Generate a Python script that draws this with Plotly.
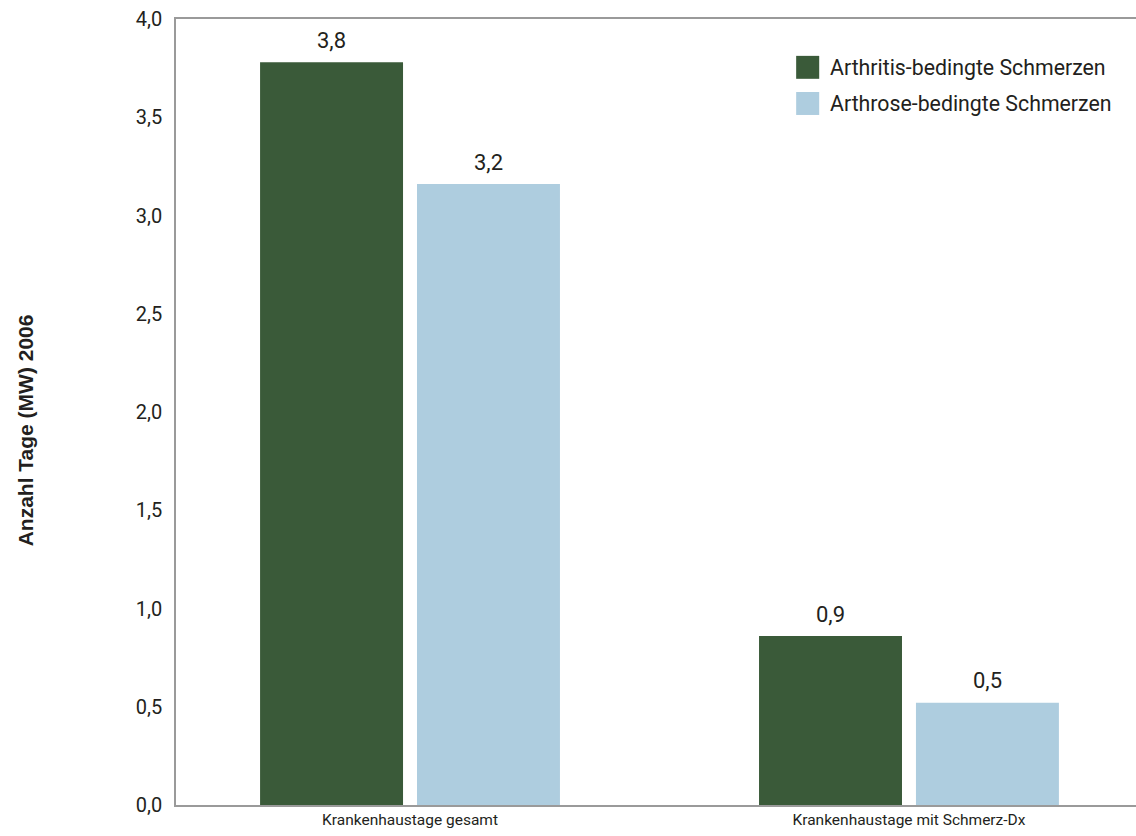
import plotly.graph_objects as go

# Mean number of hospital days, 2006
categories = ["Krankenhaustage gesamt", "Krankenhaustage mit Schmerz-Dx"]
series_names = ["Arthritis-bedingte Schmerzen", "Arthrose-bedingte Schmerzen"]
arthritis_days = [3.78, 0.86]
arthrose_days = [3.16, 0.52]
y_ticks = [0, 0.5, 1, 1.5, 2, 2.5, 3, 3.5, 4]

colors = ["#3a5a39", "#aecddf"]
font_main = "Roboto, 'Open Sans', sans-serif"
text_color = "#231f20"

fig = go.Figure()
for name, vals, col in zip(series_names, [arthritis_days, arthrose_days], colors):
    fig.add_trace(go.Bar(
        x=categories, y=vals, name=name,
        marker=dict(color=col, line=dict(width=0)),
        showlegend=False,
    ))

# Value labels above each bar (offset to the bar's slot within the group)
slot_shift = [-78.5, 78.5]
for vals, dx in zip([arthritis_days, arthrose_days], slot_shift):
    for cat, v in zip(categories, vals):
        fig.add_annotation(x=cat, y=v, text=f"{v:.1f}".replace(".", ","),
                           xref="x", yref="y", showarrow=False,
                           xshift=dx, yshift=22, yanchor="middle",
                           font=dict(family=font_main, size=22, color=text_color))

# Legend drawn as square swatches with labels
legend_y = [0.9385, 0.8925]
for name, col, ly in zip(series_names, colors, legend_y):
    fig.add_shape(type="rect", xref="paper", yref="paper",
                  x0=0.646, x1=0.670, y0=ly - 0.0146, y1=ly + 0.0146,
                  fillcolor=col, line=dict(width=0))
    fig.add_annotation(text=name, xref="paper", yref="paper",
                       x=0.679, y=ly, xanchor="left", yanchor="middle",
                       showarrow=False,
                       font=dict(family=font_main, size=21.3, color=text_color))

fig.add_annotation(text="<b>Anzahl Tage (MW) 2006</b>", xref="paper", yref="paper",
                   x=-0.157, y=0.477, textangle=-90, showarrow=False,
                   xanchor="center", yanchor="middle",
                   font=dict(family="'Liberation Sans', Arial, sans-serif", size=21,
                             color=text_color))

fig.update_layout(
    width=1136, height=836,
    margin=dict(l=176, r=0, t=19, b=31),
    paper_bgcolor="white", plot_bgcolor="white",
    barmode="group", bargap=0.371, bargroupgap=0.089,
    separators=",.",
    font=dict(family=font_main, color=text_color),
    xaxis=dict(range=[-0.469, 1.455], showline=True, linecolor="#9a9a9a",
               linewidth=1.5, mirror=True, ticks="", showgrid=False,
               tickfont=dict(size=15.5, color=text_color)),
    yaxis=dict(range=[0, 4], tickvals=y_ticks, tickformat=".1f",
               showline=True, linecolor="#9a9a9a", linewidth=1.5,
               ticks="", showgrid=False, zeroline=False,
               ticklabelstandoff=8,
               tickfont=dict(size=20, color=text_color)),
)

fig.write_html("out.html")
